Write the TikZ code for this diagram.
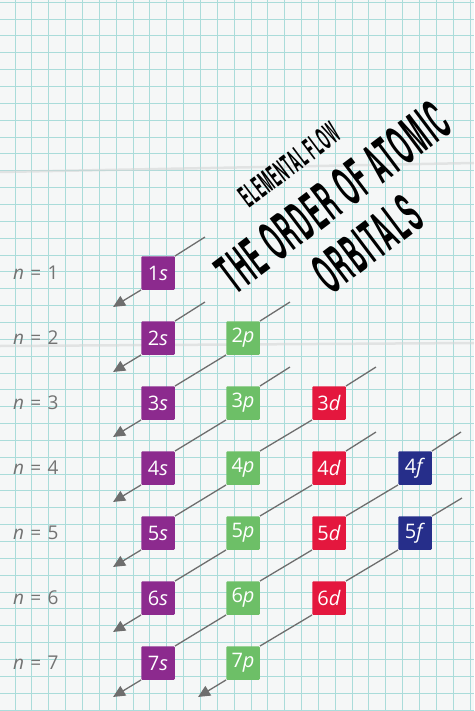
\documentclass[tikz,border=0pt]{standalone}
\usepackage{fontspec}
\setmainfont{Open Sans}
\newfontfamily\titlefont[LetterSpace=9]{TeX Gyre Heros}
\usetikzlibrary{arrows.meta, positioning, calc}

\definecolor{paper}{HTML}{F5F7F7}
\definecolor{gridline}{HTML}{AADCDA}
\definecolor{crease}{HTML}{D4D6D6}
\definecolor{sorb}{HTML}{8C2A8E}
\definecolor{porb}{HTML}{6DBF67}
\definecolor{dorb}{HTML}{E4173E}
\definecolor{forb}{HTML}{262E8A}
\definecolor{flowline}{HTML}{6E6E6E}

\newcommand{\narrow}[2]{\scalebox{#1}[1]{#2}}

\tikzset{
  orb/.style={minimum size=33.5pt, inner sep=0pt, text=white, rounded corners=1pt,
    font=\fontsize{20}{20}\selectfont},
  sbox/.style={orb, fill=sorb},
  pbox/.style={orb, fill=porb},
  dbox/.style={orb, fill=dorb},
  fbox/.style={orb, fill=forb},
  nlabel/.style={anchor=west, inner sep=0pt, text=black!55, font=\fontsize{19}{19}\selectfont},
  flow/.style={draw=flowline, line width=1.3pt},
  flowend/.style={flow, -{Triangle[length=12pt,width=11pt]}},
  title/.style={inner sep=0pt, rotate=37}
}

\begin{document}
\begin{tikzpicture}[x=1pt, y=-1pt]
  \useasboundingbox (0,0) rectangle (474,711);
  \fill[paper] (0,0) rectangle (474,711);

  % squared paper
  \foreach \gx in {0,...,27}
    \draw[gridline, line width=0.8pt] ({15+16.85*\gx},0) -- ++(0,711);
  \foreach \gy in {0,...,42}
    \draw[gridline, line width=0.8pt] (0,{2.2+16.85*\gy}) -- ++(474,0);
  \draw[crease, line width=2.5pt, opacity=0.6] (0,172) -- (474,163);
  \draw[crease, line width=2.5pt, opacity=0.6] (0,346) -- (474,343);

  % title
  \node[title, font=\titlefont\bfseries\fontsize{30}{30}\selectfont] (sub) at (289,165)
    {\narrow{0.38}{ELEMENTAL FLOW}};
  \node[title, font=\titlefont\bfseries\fontsize{54}{54}\selectfont] (head) at (333,197)
    {\narrow{0.39}{THE ORDER OF ATOMIC}};
  \node[title, font=\titlefont\bfseries\fontsize{54}{54}\selectfont] (tail) at (367,244)
    {\narrow{0.39}{ORBITALS}};

  % shells
  \node[nlabel] (n1) at (13,273) {\textit{n}\,\,=\,\,1};
  \node[nlabel] (n2) at (13,338) {\textit{n}\,\,=\,\,2};
  \node[nlabel] (n3) at (13,403) {\textit{n}\,\,=\,\,3};
  \node[nlabel] (n4) at (13,468) {\textit{n}\,\,=\,\,4};
  \node[nlabel] (n5) at (13,533) {\textit{n}\,\,=\,\,5};
  \node[nlabel] (n6) at (13,598) {\textit{n}\,\,=\,\,6};
  \node[nlabel] (n7) at (13,663) {\textit{n}\,\,=\,\,7};

  % orbitals
  \node[sbox] (s1) at (158,273) {1\textit{s}};
  \node[sbox] (s2) at (158,338) {2\textit{s}};
  \node[sbox] (s3) at (158,403) {3\textit{s}};
  \node[sbox] (s4) at (158,468) {4\textit{s}};
  \node[sbox] (s5) at (158,533) {5\textit{s}};
  \node[sbox] (s6) at (158,598) {6\textit{s}};
  \node[sbox] (s7) at (158,663) {7\textit{s}};

  \node[pbox] (p2) at (243,338) {2\textit{p}};
  \node[pbox] (p3) at (243,403) {3\textit{p}};
  \node[pbox] (p4) at (243,468) {4\textit{p}};
  \node[pbox] (p5) at (243,533) {5\textit{p}};
  \node[pbox] (p6) at (243,598) {6\textit{p}};
  \node[pbox] (p7) at (243,663) {7\textit{p}};

  \node[dbox] (d3) at (329,403) {3\textit{d}};
  \node[dbox] (d4) at (329,468) {4\textit{d}};
  \node[dbox] (d5) at (329,533) {5\textit{d}};
  \node[dbox] (d6) at (329,598) {6\textit{d}};

  \node[fbox] (f4) at (415,468) {4\textit{f}};
  \node[fbox] (f5) at (415,533) {5\textit{f}};

  % filling order, one diagonal at a time
  \draw[flow] (s1.north east) -- ++(30,-19);
  \draw[flowend] (s1.south west) -- ++(-28,17);

  \draw[flow] (s2.north east) -- ++(30,-19);
  \draw[flowend] (s2.south west) -- ++(-28,17);

  \draw[flow] (p2.north east) -- ++(30,-19);
  \draw[flow] (p2.south west) -- (s3.north east);
  \draw[flowend] (s3.south west) -- ++(-28,17);

  \draw[flow] (p3.north east) -- ++(30,-19);
  \draw[flow] (p3.south west) -- (s4.north east);
  \draw[flowend] (s4.south west) -- ++(-28,17);

  \draw[flow] (d3.north east) -- ++(30,-19);
  \draw[flow] (d3.south west) -- (p4.north east);
  \draw[flow] (p4.south west) -- (s5.north east);
  \draw[flowend] (s5.south west) -- ++(-28,17);

  \draw[flow] (d4.north east) -- ++(30,-19);
  \draw[flow] (d4.south west) -- (p5.north east);
  \draw[flow] (p5.south west) -- (s6.north east);
  \draw[flowend] (s6.south west) -- ++(-28,17);

  \draw[flow] (f4.north east) -- ++(29,-19);
  \draw[flow] (f4.south west) -- (d5.north east);
  \draw[flow] (d5.south west) -- (p6.north east);
  \draw[flow] (p6.south west) -- (s7.north east);
  \draw[flowend] (s7.south west) -- ++(-28,17);

  \draw[flow] (f5.north east) -- ++(30,-18);
  \draw[flow] (f5.south west) -- (d6.north east);
  \draw[flow] (d6.south west) -- (p7.north east);
  \draw[flowend] (p7.south west) -- ++(-28,17);
\end{tikzpicture}
\end{document}
